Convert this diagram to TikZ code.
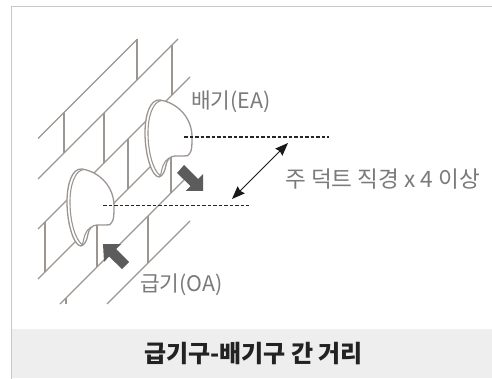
\documentclass[tikz,border=0pt]{standalone}
\usepackage{fontspec}
\setmainfont{Noto Sans CJK KR}
\usetikzlibrary{arrows.meta}
\definecolor{wallc}{HTML}{9C9692}
\definecolor{labelc}{HTML}{7A7A7A}
\definecolor{blockc}{HTML}{5C5C5C}
\definecolor{framec}{HTML}{C8C8C8}
\definecolor{bandc}{HTML}{EEEEEE}
\definecolor{titlec}{HTML}{222222}
\tikzset{
  wall/.style={draw=wallc,line width=1.35pt},
  ductline/.style={draw=wallc,line width=1.3pt,fill=white},
  ductthin/.style={draw=wallc,line width=1.1pt},
  dashline/.style={draw=black!85,line width=1.1pt,dash pattern=on 3.5pt off 2pt},
  blockarrow/.style={fill=blockc,draw=none},
  lbl/.style={text=labelc,font=\fontsize{21.4}{21.4}\selectfont,inner sep=0pt,anchor=west},
  dimarrow/.style={draw=black!90,line width=1pt,{Stealth[length=13pt,width=10pt,inset=1.5pt]}-{Stealth[length=13pt,width=10pt,inset=1.5pt]}},
}
\begin{document}
\begin{tikzpicture}[x=1pt,y=-1pt]
\useasboundingbox (0,0) rectangle (492,379);
\fill[white] (0,0) rectangle (492,379);
% band
\fill[bandc] (12,329) rectangle (492,378);
% frame
\draw[framec,line width=1.5pt] (11.5,379) -- (11.5,6.5) -- (492,6.5);
% wall
\draw[wall] (38,138.5) -- (137.5,39);
\draw[wall] (38,179) -- (178,39);
\draw[wall] (38,229) -- (190,77);
\draw[wall] (38,279) -- (165,152);
\draw[wall] (60,304) -- (186,178);
\draw[wall] (107,304) -- (190,221);
\draw[wall] (137,39.5) -- (137,80);
\draw[wall] (172,45) -- (172,95);
\draw[wall] (64,113) -- (64,153);
\draw[wall] (104,113) -- (104,163);
\draw[wall] (128,139) -- (128,189);
\draw[wall] (45,222) -- (45,272);
\draw[wall] (97,215) -- (97,267);
\draw[wall] (148,216) -- (148,263);
\draw[wall] (171,150) -- (171,193);
\draw[wall] (66,298) -- (66,304);
% ducts
\foreach \dx/\dy in {0/0,-78/69}{
\begin{scope}[shift={(\dx,\dy)}]
  \path[ductline] (160,100) .. controls (178,103) and (192,118) .. (192,137)
    .. controls (192,145) and (192,150) .. (190,153)
    .. controls (189,156) and (187,156) .. (184,156) -- (175,156)
    .. controls (170,156) and (167,160) .. (166,165)
    .. controls (165,171) and (163,176) .. (159,177)
    .. controls (152,177) and (145,155) .. (145,133)
    .. controls (145,115) and (150,99) .. (160,100) -- cycle;
  \draw[ductthin] (162,100.5) .. controls (153,101) and (148,116) .. (148,133)
    .. controls (148,152) and (153,170) .. (160,175.5);
  \draw[ductthin] (160.5,176) .. controls (162,168) and (163,162) .. (169,158);
\end{scope}}
% dashed guide lines
\coordinate (upL) at (184,137);
\coordinate (upR) at (329,137);
\coordinate (loL) at (103,205.5);
\coordinate (loR) at (249,205.5);
\draw[dashline] (upL) -- (upR);
\draw[dashline] (loL) -- (loR);
% block arrows
\path[blockarrow] (184,165) -- (198,179) -- (203,174) -- (203,191) -- (185.5,191) -- (190.5,186) -- (177,173) -- cycle;
\path[blockarrow] (103,244) -- (121,244) -- (116,249) -- (129,262) -- (122,269) -- (109,256.5) -- (104,262) -- cycle;
% dimension
\coordinate (dimA) at (232,199);
\coordinate (dimB) at (288,143);
\draw[dimarrow] (dimA) -- (dimB);
% labels
\node[lbl] (ea) at (191,102) {배기(EA)};
\node[lbl,font=\fontsize{22.6}{22.6}\selectfont] (dist) at (285,179) {주 덕트 직경 x 4 이상};
\node[lbl] (oa) at (140,285) {급기(OA)};
\node[text=titlec,font=\fontsize{24}{24}\selectfont\bfseries,inner sep=0pt] (title) at (253.5,354) {급기구-배기구 간 거리};
\end{tikzpicture}
\end{document}
